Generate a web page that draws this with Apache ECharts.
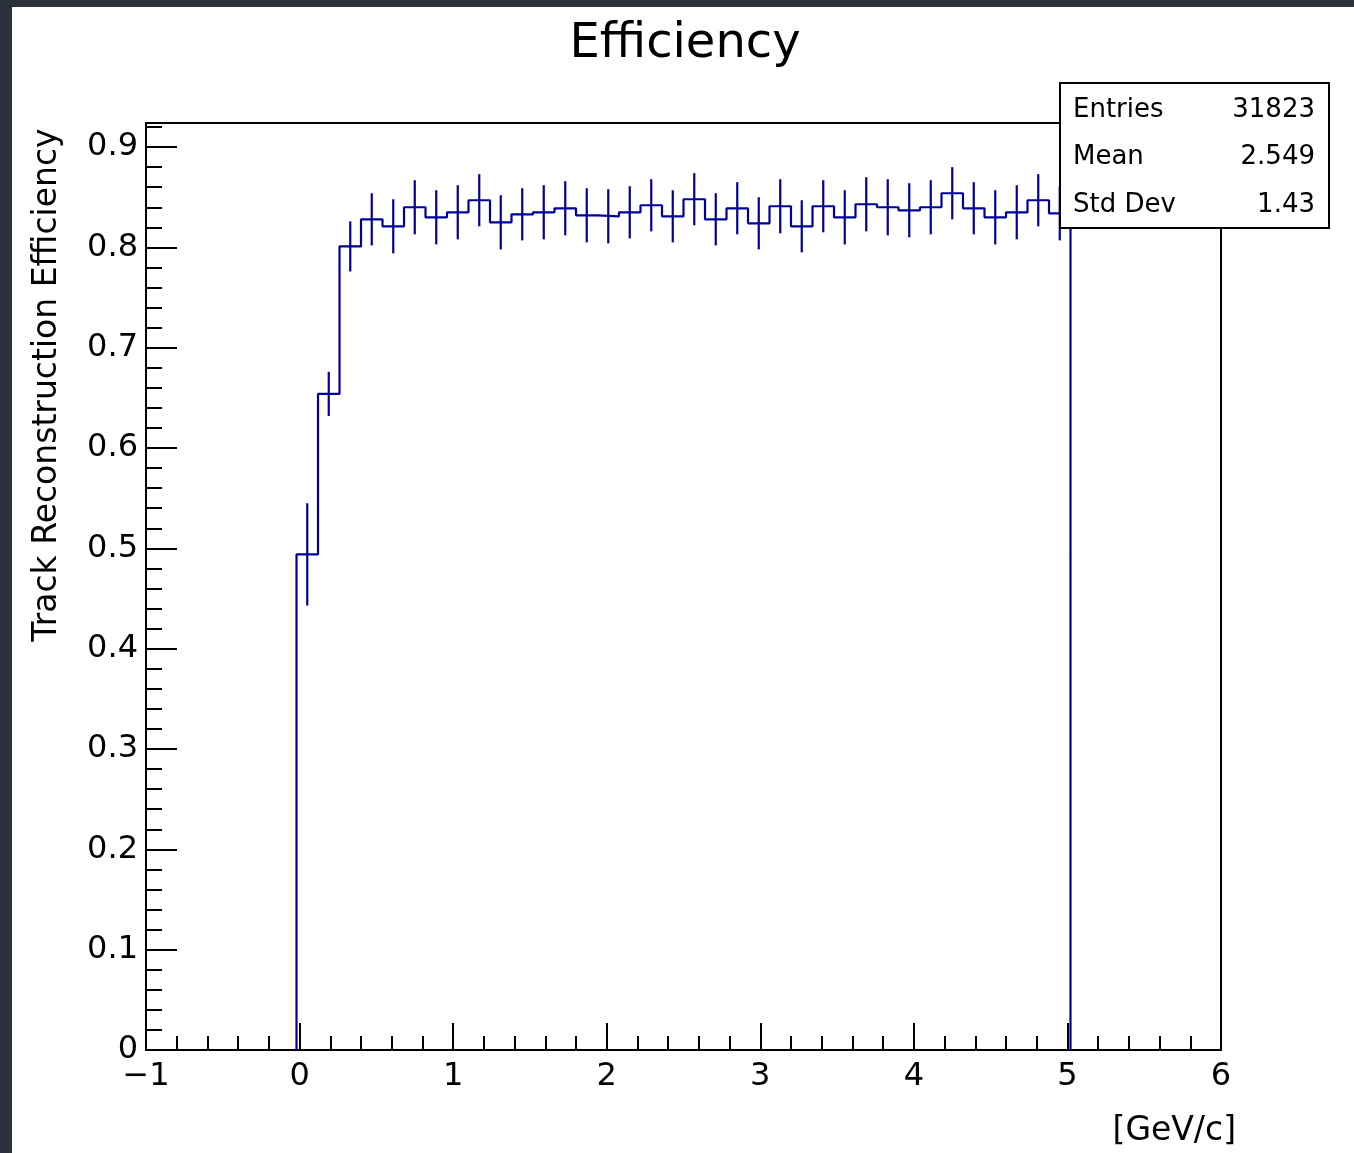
<!DOCTYPE html>
<html>
<head>
<meta charset="utf-8">
<script src="https://cdn.jsdelivr.net/npm/echarts@6/dist/echarts.min.js"></script>
<style>
html,body{margin:0;padding:0;background:#fff;}
#chart{width:1354px;height:1153px;}
</style>
</head>
<body>
<div id="chart"></div>
<script>
// Histogram binning
const binLow = -0.02;
const binWidth = 0.14;
// Bin contents (efficiency) and symmetric errors
const efficiency = [0.494, 0.654, 0.801, 0.828, 0.821, 0.840, 0.830, 0.835, 0.847, 0.825,
  0.833, 0.835, 0.839, 0.832, 0.831, 0.835, 0.842, 0.831, 0.848, 0.828,
  0.839, 0.824, 0.841, 0.821, 0.841, 0.830, 0.843, 0.840, 0.837, 0.840,
  0.854, 0.839, 0.830, 0.835, 0.847, 0.834];
const errors = [0.051, 0.022, 0.025, 0.026, 0.027, 0.027, 0.027, 0.027, 0.026, 0.027,
  0.026, 0.027, 0.027, 0.027, 0.027, 0.026, 0.026, 0.026, 0.026, 0.026,
  0.026, 0.026, 0.027, 0.026, 0.026, 0.027, 0.027, 0.028, 0.027, 0.027,
  0.026, 0.026, 0.027, 0.027, 0.026, 0.027];
// Stats box
const statNames = ['Entries', 'Mean', 'Std Dev'];
const statValues = ['31823', '2.549', '1.43'];
// Texts
const titleText = 'Efficiency';
const xTitle = '[GeV/c]';
const yTitle = 'Track Reconstruction Efficiency';

const FONT = '"DejaVu Sans", sans-serif';
const COLOR = '#000099';

// Build step outline and error bar data from the arrays
const stepData = [];
const n = efficiency.length;
stepData.push([binLow, 0]);
for (let i = 0; i < n; i++) {
  const lo = binLow + i * binWidth;
  const hi = lo + binWidth;
  stepData.push([lo, efficiency[i]]);
  stepData.push([hi, efficiency[i]]);
}
stepData.push([binLow + n * binWidth, 0]);
const errData = efficiency.map((v, i) => [binLow + (i + 0.5) * binWidth, v, errors[i]]);

const chart = echarts.init(document.getElementById('chart'), null, {renderer: 'canvas'});

const statGraphics = [];
statNames.forEach((nm, i) => {
  statGraphics.push({type: 'text', x: 1073, y: 110 + i * 47.5,
    style: {text: nm, font: '26px ' + FONT, fill: '#000', textAlign: 'left', textVerticalAlign: 'middle'}, z: 101});
  statGraphics.push({type: 'text', x: 1315, y: 110 + i * 47.5,
    style: {text: statValues[i], font: '26px ' + FONT, fill: '#000', textAlign: 'right', textVerticalAlign: 'middle'}, z: 101});
});

chart.setOption({
  animation: false,
  backgroundColor: '#fff',
  grid: {left: 146, right: 133, top: 123, bottom: 103, show: true, borderColor: '#000', borderWidth: 2, backgroundColor: 'transparent'},
  xAxis: {
    type: 'value', min: -1, max: 6, interval: 1,
    axisLine: {show: true, onZero: false, lineStyle: {color: '#000', width: 2}},
    axisTick: {show: true, inside: true, length: 27, lineStyle: {color: '#000', width: 2}},
    minorTick: {show: true, splitNumber: 5, length: 14, lineStyle: {color: '#000', width: 2}},
    splitLine: {show: false},
    axisLabel: {fontFamily: 'DejaVu Sans', fontSize: 32, color: '#000', margin: 11,
      formatter: v => v < 0 ? '\u2212' + Math.abs(v) : String(v)}
  },
  yAxis: {
    type: 'value', min: 0, max: 0.924, interval: 0.1,
    axisLine: {show: true, onZero: false, lineStyle: {color: '#000', width: 2}},
    axisTick: {show: true, inside: true, length: 31, lineStyle: {color: '#000', width: 2}},
    minorTick: {show: true, splitNumber: 5, length: 16, lineStyle: {color: '#000', width: 2}},
    splitLine: {show: false},
    axisLabel: {fontFamily: 'DejaVu Sans', fontSize: 32, color: '#000', margin: 8, showMaxLabel: false,
      formatter: v => v === 0 ? '0' : (Math.abs(v * 10 - Math.round(v * 10)) < 1e-6 ? v.toFixed(1) : '')}
  },
  series: [
    {type: 'line', data: stepData, symbol: 'none', clip: true,
     lineStyle: {color: COLOR, width: 2.2}, z: 3},
    {type: 'custom', data: errData, z: 4,
     renderItem: (params, api) => {
       const x = api.value(0), y = api.value(1), e = api.value(2);
       const p1 = api.coord([x, y - e]);
       const p2 = api.coord([x, y + e]);
       return {type: 'line', shape: {x1: p1[0], y1: p1[1], x2: p2[0], y2: p2[1]},
               style: {stroke: COLOR, lineWidth: 2.2}};
     }}
  ],
  graphic: [
    {type: 'rect', shape: {x: 0, y: 0, width: 1354, height: 7}, style: {fill: '#2b323c'}, z: 200},
    {type: 'rect', shape: {x: 0, y: 0, width: 12, height: 1153}, style: {fill: '#2b323c'}, z: 200},
    {type: 'text', x: 685, y: 45, style: {text: titleText, font: '48px ' + FONT, fill: '#000', textAlign: 'center', textVerticalAlign: 'middle'}, z: 100},
    {type: 'text', x: 1236, y: 1131, style: {text: xTitle, font: '33px ' + FONT, fill: '#000', textAlign: 'right', textVerticalAlign: 'middle'}, z: 100},
    {type: 'text', x: 47, y: 385, rotation: Math.PI / 2, style: {text: yTitle, font: '33px ' + FONT, fill: '#000', textAlign: 'center', textVerticalAlign: 'middle'}, z: 100},
    {type: 'rect', shape: {x: 1060, y: 83, width: 269, height: 145}, style: {fill: '#fff', stroke: '#000', lineWidth: 2}, z: 100},
    ...statGraphics
  ]
});
</script>
</body>
</html>
